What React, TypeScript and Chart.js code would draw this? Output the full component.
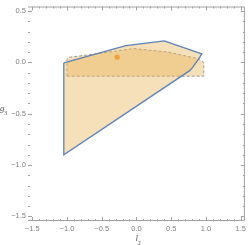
import React, { useEffect, useRef } from "react";
import { Chart, registerables } from "chart.js";

Chart.register(...registerables);

// Data
const blueX = [-1.045, -0.153, 0.4, 0.94, 0.9, 0.86, 0.8, 0.766, -1.045, -1.045];
const blueY = [-0.005, 0.163, 0.21, 0.084, 0.04, 0.0, -0.055, -0.08, -0.9, -0.005];
const dashX = [-1.0, -1.0, -0.97, -0.537, -0.04, 0.457, 0.884, 0.969, 0.969, -1.0];
const dashY = [-0.134, 0.03, 0.05, 0.087, 0.135, 0.101, 0.037, 0.0, -0.134, -0.134];
const pointX = [-0.277];
const pointY = [0.052];
const xMajor = [-1.5, -1.0, -0.5, 0.0, 0.5, 1.0, 1.5];
const yMajor = [-1.5, -1.0, -0.5, 0.0, 0.5];
const X_MIN = -1.56, X_MAX = 1.56, Y_MIN = -1.545, Y_MAX = 0.545;

const toPts = (xs: number[], ys: number[]) => xs.map((x, i) => ({ x, y: ys[i] }));
const fmt = (v: number) => (v < 0 ? "\u2212" : "") + Math.abs(v).toFixed(1);

const framePlugin = {
  id: "frame",
  afterDraw(chart: any) {
    const { ctx, chartArea: a, scales } = chart;
    const xs = scales.x, ys = scales.y;
    ctx.save();
    ctx.strokeStyle = "#a0a0a0";
    ctx.lineWidth = 1;
    // frame (top, right, bottom)
    ctx.beginPath();
    ctx.moveTo(a.left, a.top + 0.5);
    ctx.lineTo(a.right - 0.5, a.top + 0.5);
    ctx.lineTo(a.right - 0.5, a.bottom - 0.5);
    ctx.lineTo(a.left, a.bottom - 0.5);
    ctx.stroke();
    // ticks
    ctx.beginPath();
    for (let i = -15; i <= 15; i++) {
      const v = i / 10;
      const major = i % 5 === 0;
      const len = major ? 4 : 2;
      const px = Math.round(xs.getPixelForValue(v)) + 0.5;
      if (px >= a.left && px <= a.right) {
        ctx.moveTo(px, a.bottom);
        ctx.lineTo(px, a.bottom - len);
        ctx.moveTo(px, a.top);
        ctx.lineTo(px, a.top + len);
      }
      const py = Math.round(ys.getPixelForValue(v)) + 0.5;
      if (py >= a.top && py <= a.bottom) {
        ctx.moveTo(a.left, py);
        ctx.lineTo(a.left + len, py);
        ctx.moveTo(a.right, py);
        ctx.lineTo(a.right - len, py);
      }
    }
    ctx.stroke();
    // axis labels
    ctx.fillStyle = "#555";
    ctx.textBaseline = "alphabetic";
    ctx.textAlign = "left";
    ctx.font = 'italic 9px "Liberation Serif"';
    ctx.fillText("g", 0, 111);
    ctx.font = '6px "Liberation Serif"';
    ctx.fillText("3", 4.3, 114.5);
    ctx.font = 'italic 9px "Liberation Serif"';
    ctx.fillText("l", 135.5, 241);
    ctx.font = '6px "Liberation Serif"';
    ctx.fillText("2", 137.8, 244.5);
    ctx.restore();
  },
};

export default function App() {
  const ref = useRef<HTMLCanvasElement | null>(null);
  useEffect(() => {
    if (!ref.current) return;
    const fill = "rgba(232,177,82,0.4)";
    const chart = new Chart(ref.current, {
      type: "line",
      data: {
        datasets: [
          {
            data: toPts(blueX, blueY),
            borderColor: "#5e81b5",
            borderWidth: 1.3,
            backgroundColor: fill,
            fill: "shape",
            pointRadius: 0,
            tension: 0,
          },
          {
            data: toPts(dashX, dashY),
            borderColor: "#9a9a9a",
            borderWidth: 1,
            borderDash: [3, 2],
            backgroundColor: fill,
            fill: "shape",
            pointRadius: 0,
            tension: 0,
          },
          {
            data: toPts(pointX, pointY),
            showLine: false,
            pointRadius: 2.6,
            pointBackgroundColor: "#f8820f",
            pointBorderWidth: 0,
            borderColor: "#f8820f",
          },
        ],
      },
      options: {
        responsive: false,
        animation: false,
        events: [],
        layout: { padding: { top: 1, right: 1.5, left: 0, bottom: 0 } },
        plugins: { legend: { display: false }, tooltip: { enabled: false } },
        scales: {
          x: {
            type: "linear",
            min: X_MIN,
            max: X_MAX,
            grid: { display: false, drawTicks: false },
            border: { display: false },
            afterBuildTicks: (s: any) => {
              s.ticks = xMajor.map((v) => ({ value: v }));
            },
            afterFit: (s: any) => {
              s.height = 24;
            },
            ticks: {
              autoSkip: false,
              maxRotation: 0,
              padding: 3,
              color: "#808080",
              font: { family: "Liberation Sans", size: 7.5 },
              callback: (v: any) => fmt(Number(v)),
            },
          },
          y: {
            type: "linear",
            min: Y_MIN,
            max: Y_MAX,
            grid: { display: false, drawTicks: false },
            border: { display: false },
            afterBuildTicks: (s: any) => {
              s.ticks = yMajor.map((v) => ({ value: v }));
            },
            afterFit: (s: any) => {
              s.width = 28;
            },
            ticks: {
              autoSkip: false,
              padding: 2,
              color: "#808080",
              font: { family: "Liberation Sans", size: 7.5 },
              callback: (v: any) => fmt(Number(v)),
            },
          },
        },
      },
      plugins: [framePlugin],
    });
    return () => chart.destroy();
  }, []);
  return (
    <div style={{ position: "absolute", left: 0, top: 0, width: 249, height: 245, background: "#fff" }}>
      <canvas ref={ref} width={249} height={245} style={{ display: "block" }} />
    </div>
  );
}
